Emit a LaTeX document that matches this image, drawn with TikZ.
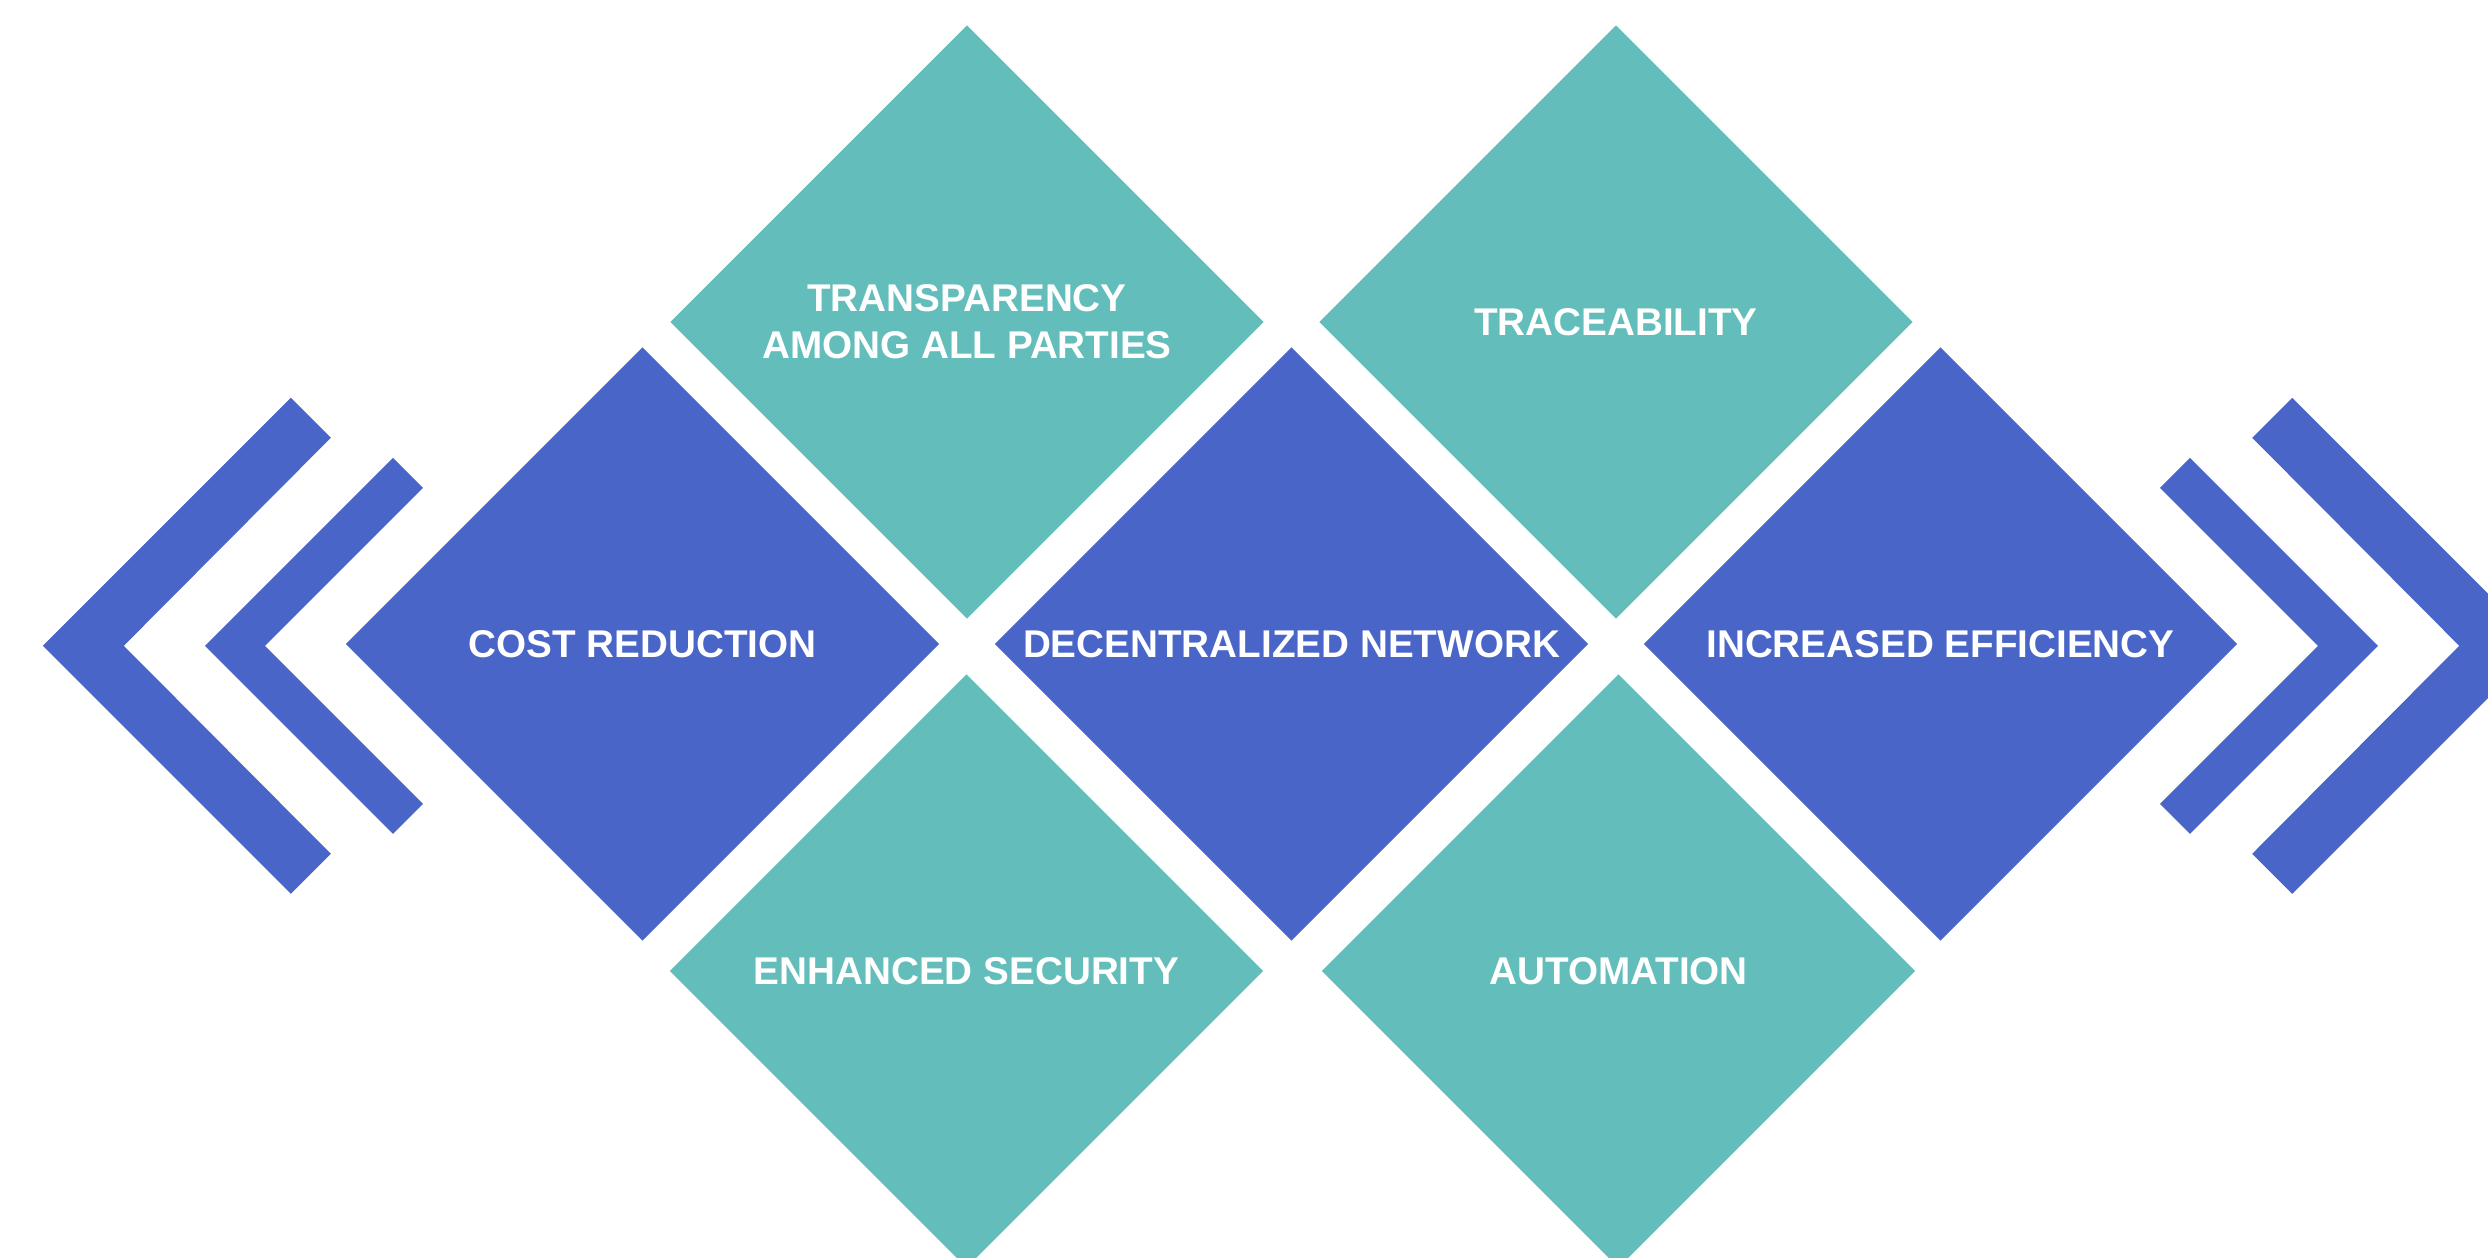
\documentclass[tikz,border=0pt]{standalone}
\usepackage{fontspec}
\setmainfont{Liberation Sans}
\usepackage{xcolor}
\usepackage{tikz}
\usetikzlibrary{shapes.geometric,positioning}
\definecolor{dblue}{RGB}{73, 101, 199}
\definecolor{mint}{RGB}{99, 190, 187}
\tikzstyle{bluebox} = [diamond, fill=dblue, draw=none, text=white, align=center, font=\bfseries\fontsize{11}{13.4}\selectfont, minimum size=59.4mm, inner sep=0pt]
\tikzstyle{mintbox} = [diamond, fill=mint, draw=none, text=white, align=center, font=\bfseries\fontsize{11}{13.4}\selectfont, minimum size=59.4mm, inner sep=0pt]
\tikzstyle{chevron} = [fill=dblue, draw=none]

\begin{document}
\begin{tikzpicture}[x=0.1mm, y=-0.1mm, on grid]
\useasboundingbox (0,0) rectangle (2488,1258);
\clip (0,0) rectangle (2488,1258);

% blue row =============================
\node[bluebox] (dec) at (1291.5,644) {DECENTRALIZED NETWORK};
\node[bluebox, left=64.9mm of dec] (cost) {COST REDUCTION};
\node[bluebox, right=64.9mm of dec] (eff) {INCREASED EFFICIENCY};

% teal diamonds
\node[mintbox, above left=32.2mm and 32.45mm of dec] (transp) {TRANSPARENCY\\AMONG ALL PARTIES};
\node[mintbox, above right=32.2mm and 32.45mm of dec] (trace) {TRACEABILITY};
\node[mintbox, below left=32.7mm and 32.5mm of dec] (secur) {ENHANCED SECURITY};
\node[mintbox, below right=32.7mm and 32.7mm of dec] (auto) {AUTOMATION};

% chevrons
\fill[chevron] (42.8,645.8) -- (290.8,397.8) -- (330.8,437.8) -- (123.8,645.8) -- (330.8,853.8) -- (290.8,893.8) -- cycle;
\fill[chevron] (205,645.8) -- (393,457.8) -- (423,487.8) -- (265,645.8) -- (423,803.8) -- (393,833.8) -- cycle;
\fill[chevron] (2540.2,645.8) -- (2292.2,397.8) -- (2252.2,437.8) -- (2459.2,645.8) -- (2252.2,853.8) -- (2292.2,893.8) -- cycle;
\fill[chevron] (2378,645.8) -- (2190,457.8) -- (2160,487.8) -- (2318,645.8) -- (2160,803.8) -- (2190,833.8) -- cycle;

\end{tikzpicture}
\end{document}
